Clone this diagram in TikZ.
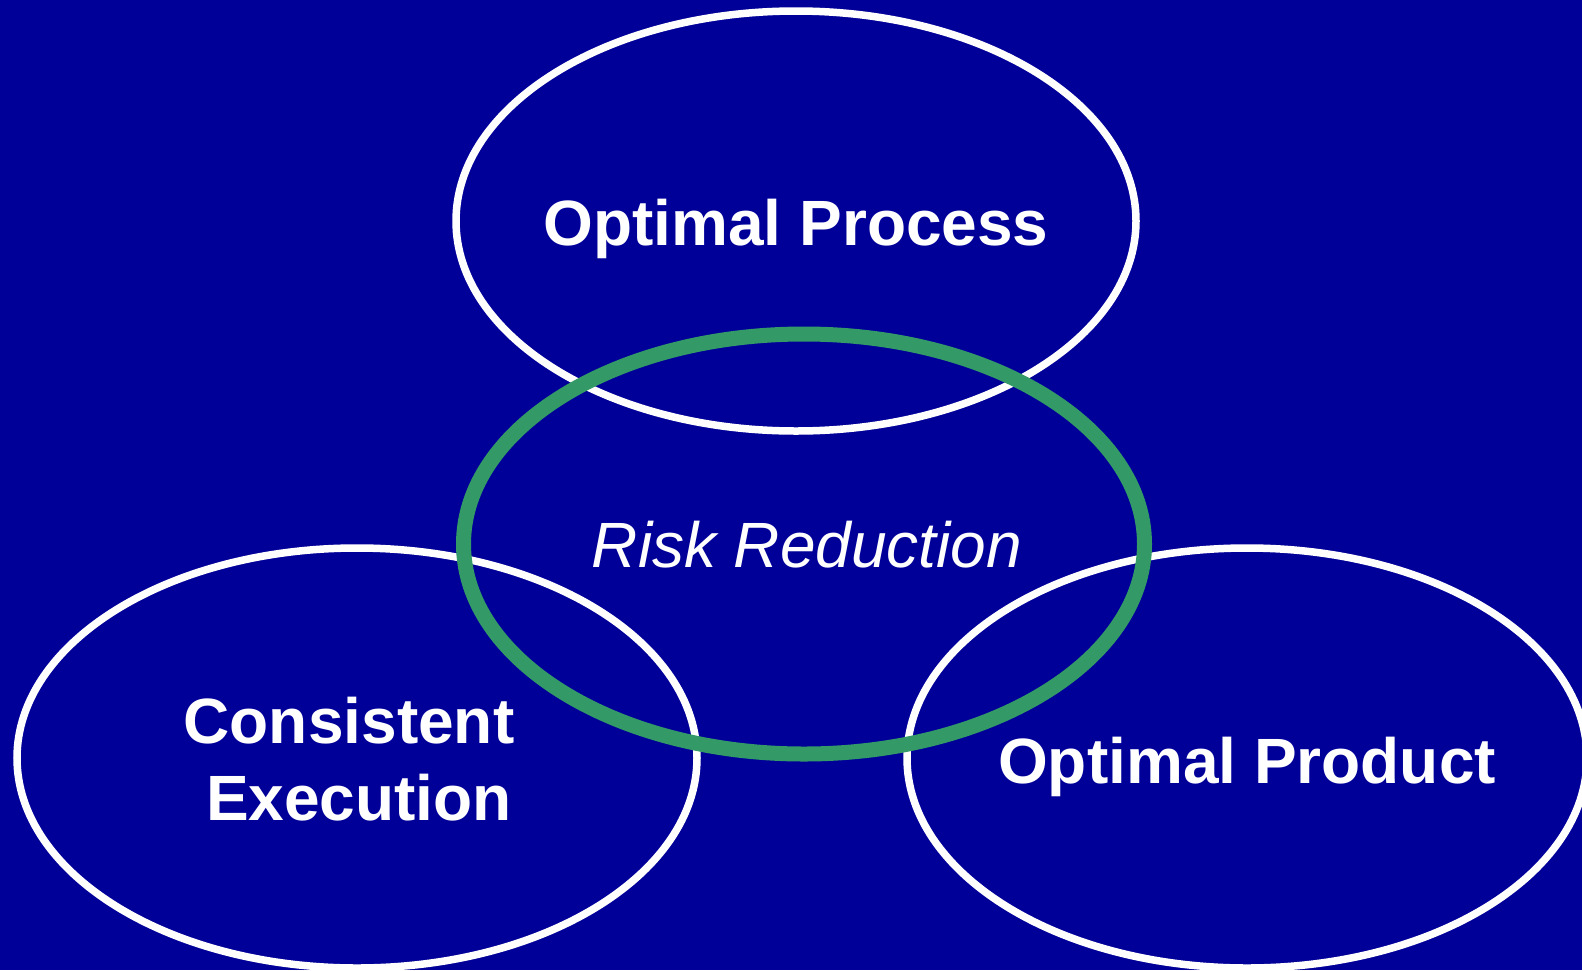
\documentclass[tikz,border=0pt]{standalone}
\usepackage{fontspec}
\setmainfont{Liberation Sans}
\usetikzlibrary{shapes.geometric}
\definecolor{slideblue}{RGB}{0,0,153}
\definecolor{riskgreen}{RGB}{51,153,102}
\begin{document}
\begin{tikzpicture}[x=1pt,y=-1pt,
  goal/.style={ellipse, draw=white, line width=7.5pt, minimum width=680pt, minimum height=420pt, inner sep=0pt},
  risk/.style={ellipse, draw=riskgreen, line width=15pt, minimum width=681pt, minimum height=420pt, inner sep=0pt},
  goaltext/.style={anchor=base, inner sep=0pt, text=white, font=\fontsize{64}{77}\selectfont\bfseries},
  risktext/.style={anchor=base, inner sep=0pt, text=white, font=\fontsize{64}{77}\selectfont\itshape}]
% slide background
\fill[slideblue] (0,0) rectangle (1582,970);
\useasboundingbox (0,0) rectangle (1582,970);
% the three goal ellipses
\node[goal] (process) at (796,221) {};
\node[goal] (execution) at (357,758) {};
\node[goal] (product) at (1247,758) {};
% the ring over them
\node[risk] (risk) at (804,544) {};
% labels
\node[goaltext] (processlabel) at (796,245) {Optimal Process};
\node[goaltext] (consistentlabel) at (349,743) {Consistent};
\node[goaltext] (executionlabel) at (359,820) {Execution};
\node[goaltext] (productlabel) at (1247,783) {Optimal Product};
\node[risktext] (risklabel) at (807,567) {Risk Reduction};
\end{tikzpicture}
\end{document}
